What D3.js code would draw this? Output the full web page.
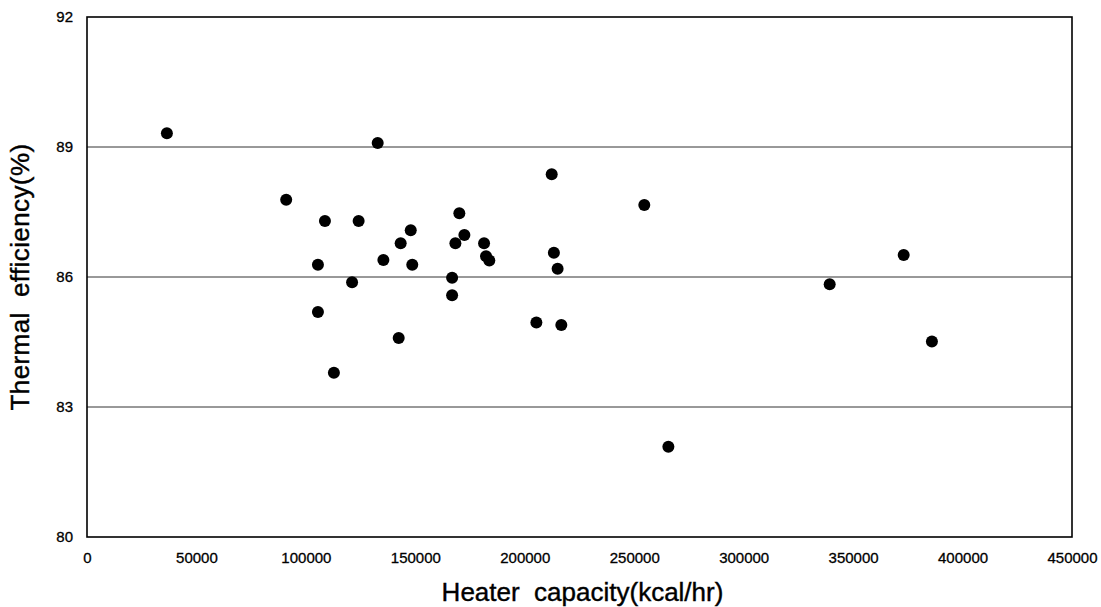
<!DOCTYPE html>
<html>
<head>
<meta charset="utf-8">
<script src="https://cdn.jsdelivr.net/npm/d3@7"></script>
<style>
  html, body { margin: 0; padding: 0; background: #fff; }
  svg { display: block; }
  text { font-family: "Liberation Sans", Arial, sans-serif; fill: #000; }
</style>
</head>
<body>
<svg id="chart" width="1101" height="607"></svg>
<script>
// Heater capacity (kcal/hr) for each heater
const capacity = [
  36500, 91000, 108700, 124100, 132800, 105500, 121100, 105500,
  112800, 212300, 170100, 147900, 143300, 172400, 168300, 181400,
  135400, 148600, 182300, 183800, 213300, 215000, 166800, 166800,
  205300, 216700, 142400, 254600, 265600, 373100, 339300, 386000
];
// Measured thermal efficiency (%) for the same heaters
const efficiency = [
  89.32, 87.78, 87.29, 87.29, 89.09, 86.28, 85.88, 85.19,
  83.79, 88.37, 87.47, 87.08, 86.78, 86.97, 86.78, 86.78,
  86.39, 86.28, 86.48, 86.38, 86.56, 86.19, 85.98, 85.58,
  84.95, 84.89, 84.59, 87.66, 82.08, 86.51, 85.83, 84.51
];
const xTicks = [0, 50000, 100000, 150000, 200000, 250000, 300000, 350000, 400000, 450000];
const yTicks = [80, 83, 86, 89, 92];

const svg = d3.select("#chart");
const W = 1101, H = 607;
const margin = { left: 87, top: 17, right: W - 1072, bottom: H - 537 };

const x = d3.scaleLinear().domain([0, 450000]).range([margin.left, W - margin.right]);
const y = d3.scaleLinear().domain([80, 92]).range([H - margin.bottom, margin.top]);

// horizontal grid lines at the inner y ticks
svg.append("g")
  .selectAll("line")
  .data(yTicks.filter(d => d > 80 && d < 92))
  .join("line")
  .attr("x1", x(0)).attr("x2", x(450000))
  .attr("y1", d => y(d)).attr("y2", d => y(d))
  .attr("stroke", "#333").attr("stroke-width", 1);

// y axis labels
const yAxis = d3.axisLeft(y).tickValues(yTicks).tickSize(0).tickPadding(14).tickFormat(d3.format("d"));
svg.append("g")
  .attr("transform", `translate(${x(0)},0)`)
  .call(yAxis)
  .call(g => g.select(".domain").remove())
  .call(g => g.selectAll("text")
    .attr("font-family", "Liberation Sans, Arial, sans-serif")
    .style("font-size", "15px")
    .style("stroke", "#000").style("stroke-width", "0.3px"));

// x axis labels
const xAxis = d3.axisBottom(x).tickValues(xTicks).tickSize(0).tickPadding(15).tickFormat(d3.format("d"));
svg.append("g")
  .attr("transform", `translate(0,${y(80)})`)
  .call(xAxis)
  .call(g => g.select(".domain").remove())
  .call(g => g.selectAll("text")
    .attr("font-family", "Liberation Sans, Arial, sans-serif")
    .style("font-size", "15px")
    .style("stroke", "#000").style("stroke-width", "0.3px"));

// plot frame
svg.append("rect")
  .attr("x", x(0)).attr("y", y(92))
  .attr("width", x(450000) - x(0)).attr("height", y(80) - y(92))
  .attr("fill", "none").attr("stroke", "#000").attr("stroke-width", 1.6);

// data points
svg.append("g")
  .selectAll("circle")
  .data(capacity.map((c, i) => [c, efficiency[i]]))
  .join("circle")
  .attr("cx", d => x(d[0]))
  .attr("cy", d => y(d[1]))
  .attr("r", 6)
  .attr("fill", "#000");

// axis titles
svg.append("text")
  .attr("x", (x(0) + x(450000)) / 2 + 3)
  .attr("y", 601)
  .attr("text-anchor", "middle")
  .style("font-size", "26px")
  .style("stroke", "#000").style("stroke-width", "0.4px")
  .style("white-space", "pre")
  .attr("xml:space", "preserve")
  .text("Heater  capacity(kcal/hr)");

svg.append("text")
  .attr("transform", `translate(29,${(y(80) + y(92)) / 2}) rotate(-90)`)
  .attr("text-anchor", "middle")
  .style("font-size", "26px")
  .style("letter-spacing", "0.4px")
  .style("stroke", "#000").style("stroke-width", "0.4px")
  .style("white-space", "pre")
  .attr("xml:space", "preserve")
  .text("Thermal  efficiency(%)");
</script>
</body>
</html>
